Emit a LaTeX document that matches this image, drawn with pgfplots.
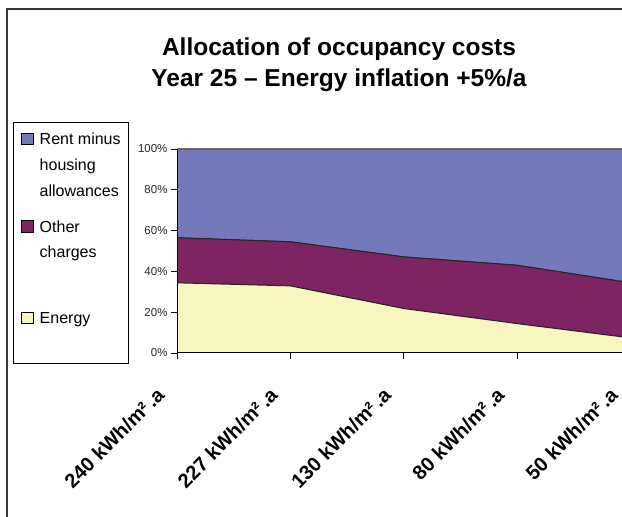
\documentclass[border=0pt]{standalone}
\usepackage{fontspec}
\setmainfont{Liberation Sans}
\usepackage{pgfplots}
\pgfplotsset{compat=1.18}
\definecolor{rentc}{RGB}{116,121,187}
\definecolor{otherc}{RGB}{127,36,98}
\definecolor{energyc}{RGB}{247,245,192}
\pgfplotsset{
  sqrow/.style 2 args={legend image code/.code={\path (0bp,#1) (0bp,-#2); \draw[##1, line width=0.8bp] (0bp,0bp) rectangle (11.5bp,11.5bp);}},
  blankrow/.style 2 args={legend image code/.code={\path (0bp,#1) (0bp,-#2);}},
}
\begin{document}
\begin{tikzpicture}
\useasboundingbox (0bp,0bp) rectangle (622bp,517bp);
\clip (0bp,0bp) rectangle (622bp,517bp);
\draw[line width=1.6bp, black!80] (7bp,-5bp) -- (7bp,508bp) -- (640bp,508bp);
\node[font=\bfseries\fontsize{24.5bp}{31bp}\selectfont, align=center] at (339bp,452bp) {Allocation of occupancy costs\\Year 25 – Energy inflation +5\%/a};
\begin{axis}[
  at={(177bp,164bp)}, anchor=south west,
  scale only axis, width=453.5bp, height=204bp,
  xmin=0, xmax=4, ymin=0, ymax=100,
  axis lines*=left, axis on top,
  axis line style={black, line width=1bp},
  stack plots=y,
  xtick={0,1,2,3,4},
  xticklabels={240 kWh/m²\,.a, 227 kWh/m²\,.a, 130 kWh/m²\,.a, 80 kWh/m²\,.a, 50 kWh/m²\,.a},
  xticklabel style={xshift=-14bp, yshift=-30bp, anchor=east, rotate=45, font=\bfseries\fontsize{20bp}{22bp}\selectfont},
  ytick={0,20,40,60,80,100},
  yticklabel={\pgfmathprintnumber{\tick}\%},
  yticklabel style={font=\fontsize{11.5bp}{13bp}\selectfont, text=black!85},
  /pgf/number format/assume math mode=true,
  tick align=outside, major tick length=6bp,
  tick style={black, line width=0.8bp},
  legend cell align=left,
  legend style={at={(-0.3616,1.1325)}, anchor=north west, draw=black, line width=0.8bp,
    inner xsep=8bp, inner ysep=8bp, row sep=0pt, column sep=6bp,
    nodes={inner sep=0pt, anchor=base west}, cells={anchor=base west},
    font=\fontsize{16bp}{19bp}\selectfont},
]
\addlegendimage{fill=rentc, draw=black, sqrow={14bp}{13bp}}
\addlegendentry{Rent minus}
\addlegendimage{blankrow={12bp}{13bp}}
\addlegendentry{housing}
\addlegendimage{blankrow={12bp}{23bp}}
\addlegendentry{allowances}
\addlegendimage{fill=otherc, draw=black, sqrow={12bp}{13bp}}
\addlegendentry{Other}
\addlegendimage{blankrow={12bp}{53bp}}
\addlegendentry{charges}
\addlegendimage{fill=energyc, draw=black, sqrow={12bp}{31bp}}
\addlegendentry{Energy}
\addplot[fill=energyc, draw=black!85, line width=1bp] coordinates {(0,34.4) (1,32.9) (2,21.8) (3,14.4) (4,7.4)} \closedcycle;
\addplot[fill=otherc, draw=black!85, line width=1bp] coordinates {(0,22.1) (1,21.6) (2,25.3) (3,28.6) (4,27.0)} \closedcycle;
\addplot[fill=rentc, draw=black!85, line width=1bp] coordinates {(0,43.5) (1,45.5) (2,52.9) (3,57.0) (4,65.6)} \closedcycle;
\end{axis}
\end{tikzpicture}
\end{document}
